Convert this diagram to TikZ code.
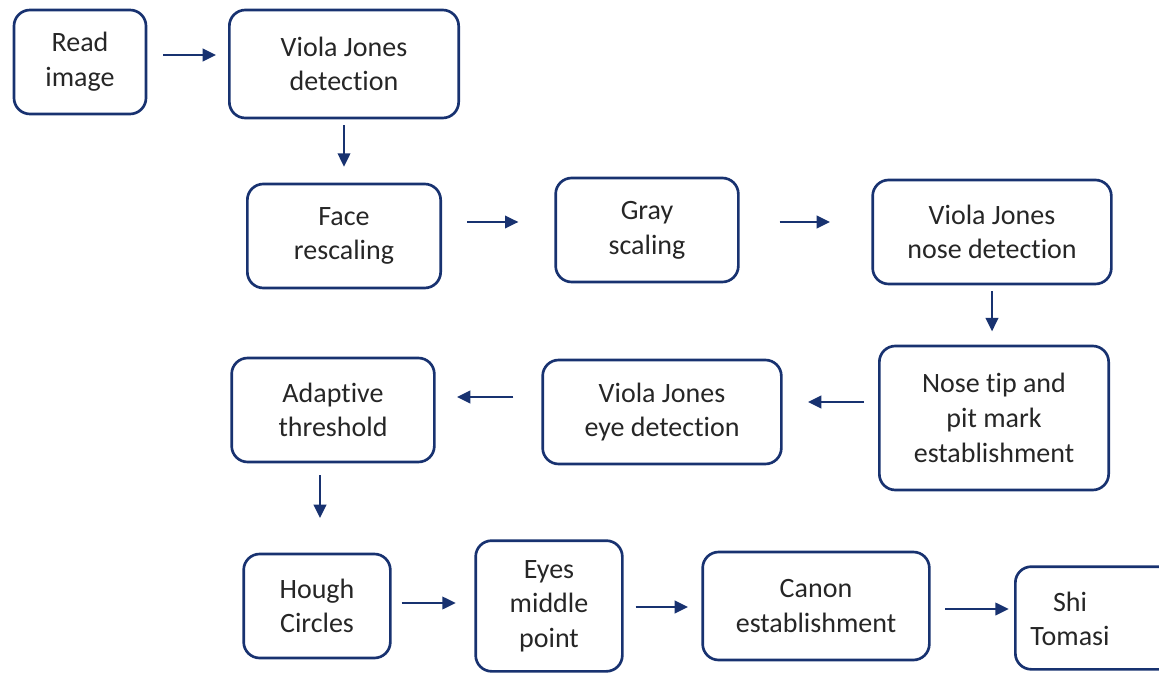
\documentclass[tikz,border=0pt]{standalone}
\usepackage{fontspec}
\setmainfont{Carlito}[Ligatures={NoCommon}]
\usetikzlibrary{arrows.meta}
\definecolor{navy}{RGB}{24,50,112}
\tikzset{
  block/.style={
    rectangle,
    rounded corners=12pt,
    draw=navy,
    line width=2pt,
    align=center,
    text=black!85,
    font=\fontsize{21}{26}\selectfont,
    inner sep=0pt
  }
}
\tikzstyle{arrow} = [-{Triangle[length=10pt,width=9.5pt]}, draw=navy, line width=1.3pt]

\begin{document}
\begin{tikzpicture}[x=0.75pt,y=-0.75pt]
    \useasboundingbox (0,0) rectangle (1159,680);
    \node[block, minimum width=99pt, minimum height=78pt] (read) at (80,62) {Read\\image};
    \node[block, minimum width=172pt, minimum height=81pt] (vj) at (344,64) {Viola Jones\\detection};
    \node[block, minimum width=145pt, minimum height=78pt] (face) at (344,236) {Face\\rescaling};
    \node[block, minimum width=137pt, minimum height=78pt] (gray) at (647,230) {Gray\\scaling};
    \node[block, minimum width=179pt, minimum height=78pt] (nose) at (992,232) {Viola Jones\\nose detection};
    \node[block, minimum width=172pt, minimum height=108pt] (tip) at (994,418) {Nose tip and\\pit mark\\establishment};
    \node[block, minimum width=179pt, minimum height=78pt] (eye) at (662,412) {Viola Jones\\eye detection};
    \node[block, minimum width=152pt, minimum height=78pt] (adapt) at (333,410) {Adaptive\\threshold};
    \node[block, minimum width=110pt, minimum height=78pt] (hough) at (317,606) {Hough\\Circles};
    \node[block, minimum width=110pt, minimum height=98pt] (mid) at (549,606) {Eyes\\middle\\point};
    \node[block, minimum width=170pt, minimum height=81pt] (canon) at (816,606) {Canon\\establishment};
    \node[block, minimum width=124pt, minimum height=77pt] (shi) at (1098,618) {};
    \node[font=\fontsize{21}{26}\selectfont, text=black!85, align=center] (shitext) at (1070,619) {Shi\\Tomasi};
    \draw[arrow, shorten <=12pt, shorten >=9pt] (read.east |- 0,55) -- (vj.west |- 0,55);
    \draw[arrow, shorten <=4.5pt, shorten >=12pt] (vj) -- (face);
    \draw[arrow, shorten <=19pt, shorten >=27pt] (face.east |- 0,222) -- (gray.west |- 0,222);
    \draw[arrow, shorten <=30pt, shorten >=31pt] (gray.east |- 0,222) -- (nose.west |- 0,222);
    \draw[arrow, shorten <=4.5pt, shorten >=10pt] (nose) -- (nose |- tip.north);
    \draw[arrow, shorten <=10.5pt, shorten >=19pt] (tip.west |- 0,402) -- (eye.east |- 0,402);
    \draw[arrow, shorten <=21pt, shorten >=16pt] (eye.west |- 0,397) -- (adapt.east |- 0,397);
    \draw[arrow, shorten <=9pt, shorten >=26pt] (adapt.south -| 320,0) -- (hough.north -| 320,0);
    \draw[arrow, shorten <=7.5pt, shorten >=14pt] (hough.east |- 0,603) -- (mid.west |- 0,603);
    \draw[arrow, shorten <=9pt, shorten >=10pt] (mid.east |- 0,607) -- (canon.west |- 0,607);
    \draw[arrow, shorten <=11pt, shorten >=4pt] (canon.east |- 0,609) -- (shi.west |- 0,609);
  \end{tikzpicture}
\end{document}
